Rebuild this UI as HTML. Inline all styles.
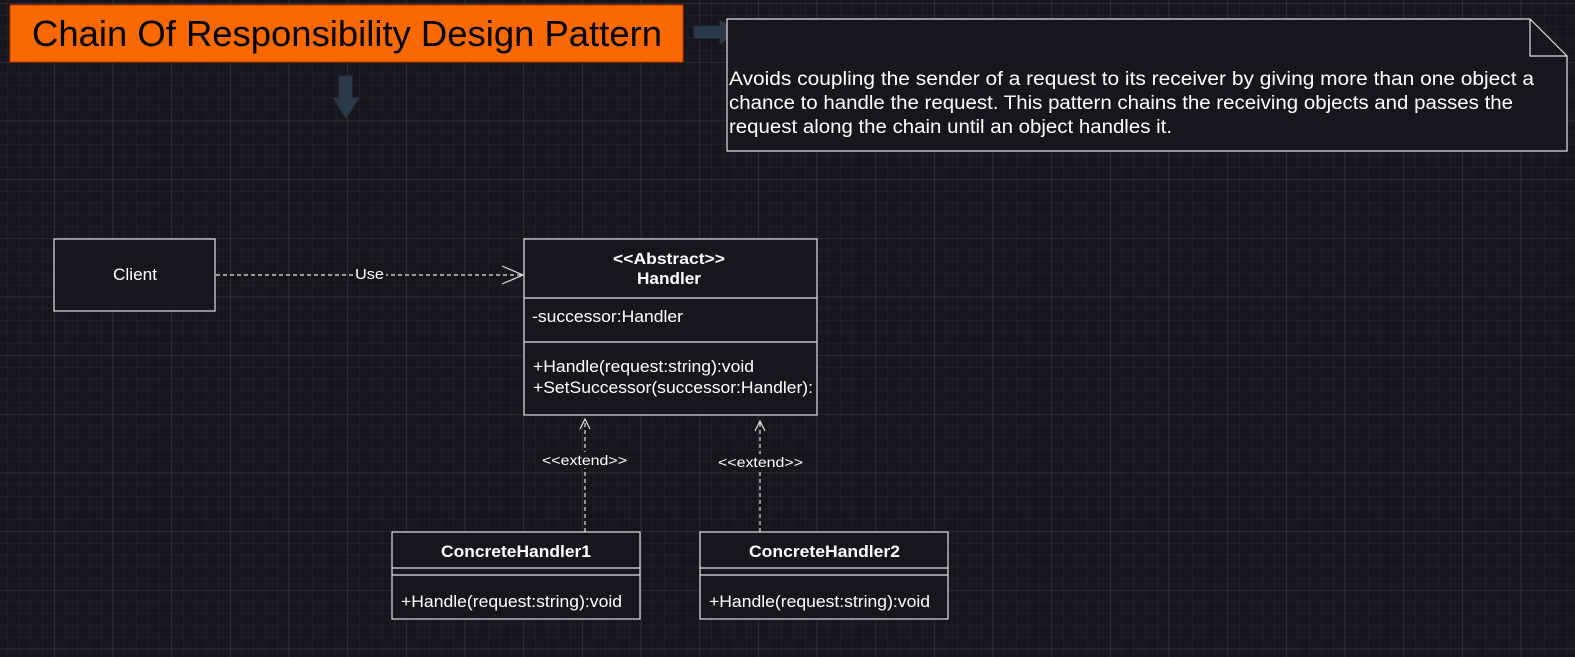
<!DOCTYPE html>
<html><head><meta charset="utf-8"><style>
html,body{margin:0;padding:0;background:#18161d;}
body{width:1575px;height:657px;overflow:hidden;position:relative;font-family:"Liberation Sans",Arial,sans-serif;}
</style></head><body>
<svg width="1575" height="657" xmlns="http://www.w3.org/2000/svg" style="position:absolute;left:0;top:0" font-family="Liberation Sans, Arial, sans-serif">
<defs>
<pattern id="minor" x="54" y="3.3" width="11.734" height="11.734" patternUnits="userSpaceOnUse">
<path d="M0 0 H11.734 M0 0 V11.734" stroke="#28272d" stroke-width="1" fill="none"/>
</pattern>
<pattern id="major" x="54" y="3.3" width="58.67" height="58.67" patternUnits="userSpaceOnUse">
<path d="M0 0 H58.67 M0 0 V58.67" stroke="#3a393f" stroke-width="1" fill="none"/>
</pattern>
</defs>
<rect width="1575" height="657" fill="#18161d"/>
<rect width="1575" height="657" fill="url(#minor)"/>
<rect width="1575" height="657" fill="url(#major)"/>

<!-- title -->
<rect x="10" y="5" width="673" height="57" fill="#fa6800" stroke="#c73500" stroke-width="1"/>
<text x="32" y="46" font-size="36" fill="#000" textLength="630" lengthAdjust="spacingAndGlyphs">Chain Of Responsibility Design Pattern</text>

<!-- block arrows -->
<path d="M694 26 H720 V20 L738 32 L720 44 V38 H694 Z" fill="#2a3a4a" stroke="#24313d"/>
<path d="M339 76 H352 V98 H359 L346 118 L333 98 H339 Z" fill="#2a3a4a" stroke="#24313d"/>

<!-- note -->
<path d="M727 19 H1530 L1567 56 V151 H727 Z" fill="#18161d" stroke="#e0e0e0" stroke-width="1.2"/>
<path d="M1530 19 V56 H1567" fill="none" stroke="#e0e0e0" stroke-width="1.2"/>
<g font-size="19" fill="#fff">
<text x="729" y="85" textLength="805" lengthAdjust="spacingAndGlyphs">Avoids coupling the sender of a request to its receiver by giving more than one object a</text>
<text x="729" y="109" textLength="784" lengthAdjust="spacingAndGlyphs">chance to handle the request. This pattern chains the receiving objects and passes the</text>
<text x="729" y="133" textLength="443" lengthAdjust="spacingAndGlyphs">request along the chain until an object handles it.</text>
</g>

<!-- client -->
<rect x="54" y="239" width="161" height="72" fill="#18161d" stroke="#e0e0e0" stroke-width="1.2"/>
<text x="113" y="280" font-size="17" fill="#fff" textLength="44" lengthAdjust="spacingAndGlyphs">Client</text>

<!-- use -->
<line x1="216" y1="275" x2="522" y2="275" stroke="#e0e0e0" stroke-width="1.2" stroke-dasharray="4 3"/>
<path d="M502 266 L523 275 L502 284" fill="none" stroke="#e0e0e0" stroke-width="1.2"/>
<rect x="353" y="266" width="33" height="16" fill="#18161d"/>
<text x="355" y="279" font-size="15" fill="#fff" textLength="29" lengthAdjust="spacingAndGlyphs">Use</text>

<!-- handler -->
<rect x="524" y="239" width="293" height="176" fill="#18161d" stroke="#e0e0e0" stroke-width="1.2"/>
<line x1="524" y1="298" x2="817" y2="298" stroke="#e0e0e0" stroke-width="1.2"/>
<line x1="524" y1="342" x2="817" y2="342" stroke="#e0e0e0" stroke-width="1.2"/>
<text x="613" y="264" font-size="16" font-weight="bold" fill="#fff" textLength="112" lengthAdjust="spacingAndGlyphs">&lt;&lt;Abstract&gt;&gt;</text>
<text x="637" y="284" font-size="17" font-weight="bold" fill="#fff" textLength="64" lengthAdjust="spacingAndGlyphs">Handler</text>
<text x="532" y="322" font-size="17" fill="#fff" textLength="151" lengthAdjust="spacingAndGlyphs">-successor:Handler</text>
<text x="533" y="372" font-size="17" fill="#fff" textLength="221" lengthAdjust="spacingAndGlyphs">+Handle(request:string):void</text>
<text x="533" y="393" font-size="17" fill="#fff" textLength="280" lengthAdjust="spacingAndGlyphs">+SetSuccessor(successor:Handler):</text>

<!-- extends -->
<line x1="585" y1="532" x2="585" y2="420" stroke="#e0e0e0" stroke-width="1.2" stroke-dasharray="4 3"/>
<path d="M580 429 L585 419 L590 429" fill="none" stroke="#e0e0e0" stroke-width="1.2"/>
<rect x="540" y="452" width="90" height="16" fill="#18161d"/>
<text x="542" y="465" font-size="14" fill="#fff" textLength="85" lengthAdjust="spacingAndGlyphs">&lt;&lt;extend&gt;&gt;</text>
<line x1="760" y1="532" x2="760" y2="422" stroke="#e0e0e0" stroke-width="1.2" stroke-dasharray="4 3"/>
<path d="M755 431 L760 421 L765 431" fill="none" stroke="#e0e0e0" stroke-width="1.2"/>
<rect x="716" y="454" width="90" height="16" fill="#18161d"/>
<text x="718" y="467" font-size="14" fill="#fff" textLength="85" lengthAdjust="spacingAndGlyphs">&lt;&lt;extend&gt;&gt;</text>

<!-- CH1 -->
<rect x="392" y="532" width="248" height="87" fill="#18161d" stroke="#e0e0e0" stroke-width="1.2"/>
<line x1="392" y1="568" x2="640" y2="568" stroke="#e0e0e0" stroke-width="1.2"/>
<line x1="392" y1="575" x2="640" y2="575" stroke="#e0e0e0" stroke-width="1.2"/>
<text x="441" y="557" font-size="17" font-weight="bold" fill="#fff" textLength="150" lengthAdjust="spacingAndGlyphs">ConcreteHandler1</text>
<text x="401" y="607" font-size="17" fill="#fff" textLength="221" lengthAdjust="spacingAndGlyphs">+Handle(request:string):void</text>

<!-- CH2 -->
<rect x="700" y="532" width="248" height="87" fill="#18161d" stroke="#e0e0e0" stroke-width="1.2"/>
<line x1="700" y1="568" x2="948" y2="568" stroke="#e0e0e0" stroke-width="1.2"/>
<line x1="700" y1="575" x2="948" y2="575" stroke="#e0e0e0" stroke-width="1.2"/>
<text x="749" y="557" font-size="17" font-weight="bold" fill="#fff" textLength="151" lengthAdjust="spacingAndGlyphs">ConcreteHandler2</text>
<text x="709" y="607" font-size="17" fill="#fff" textLength="221" lengthAdjust="spacingAndGlyphs">+Handle(request:string):void</text>
</svg>
</body></html>
